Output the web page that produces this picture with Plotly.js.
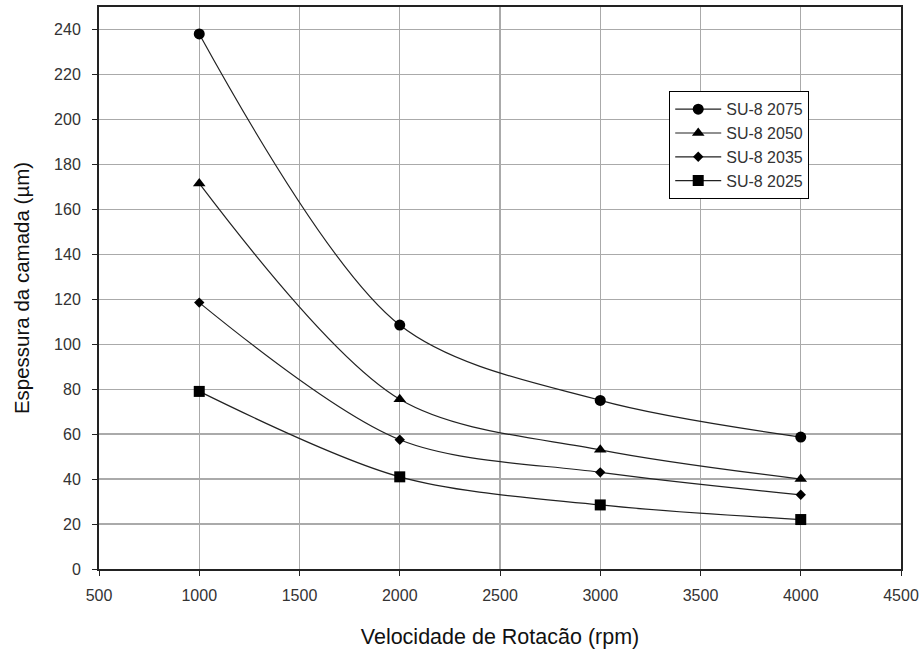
<!DOCTYPE html>
<html>
<head>
<meta charset="utf-8">
<script src="https://cdn.plot.ly/plotly-3.0.1.min.js"></script>
<style>html,body{margin:0;padding:0;background:#fff;}#chart{width:922px;height:651px;}</style>
</head>
<body>
<div id="chart"></div>
<script>
const rpm = [1000, 2000, 3000, 4000];
const su8_2075 = [238, 108.5, 75, 58.7];
const su8_2050 = [171.5, 75.5, 53, 40];
const su8_2035 = [118.5, 57.5, 43, 33];
const su8_2025 = [79, 41, 28.5, 22];
const seriesNames = ["SU-8 2075", "SU-8 2050", "SU-8 2035", "SU-8 2025"];
const xTicks = [500, 1000, 1500, 2000, 2500, 3000, 3500, 4000, 4500];
const yTicks = [0, 20, 40, 60, 80, 100, 120, 140, 160, 180, 200, 220, 240];

const series = [su8_2075, su8_2050, su8_2035, su8_2025];
const symbols = ["circle", "triangle-up", "diamond", "square"];
const sizes = [11, 11, 8, 11];

const traces = series.map((ys, i) => ({
  x: rpm, y: ys, name: seriesNames[i], type: "scatter", mode: "lines+markers",
  line: {color: "#222", width: 1.2, shape: "spline", smoothing: 0.9},
  marker: {symbol: symbols[i], size: sizes[i], color: "#000"}
}));

const layout = {
  width: 922, height: 651,
  margin: {l: 99, r: 21, t: 7, b: 82},
  paper_bgcolor: "#fff", plot_bgcolor: "#fff",
  font: {family: "Arial, 'Liberation Sans', sans-serif", color: "#333", size: 16},
  showlegend: true,
  legend: {x: 0.711, y: 0.85, xanchor: "left", yanchor: "top", bgcolor: "#fff",
           bordercolor: "#000", borderwidth: 1, font: {size: 16, color: "#333"},
           tracegroupgap: 0, itemwidth: 46},
  xaxis: {
    range: [500, 4500], tickvals: xTicks, ticktext: xTicks.map(String),
    showgrid: true, gridcolor: "#aaa", gridwidth: 1.3, zeroline: false,
    showline: true, linecolor: "#222", linewidth: 2, mirror: true,
    ticks: "outside", ticklen: 5, tickcolor: "#222", ticklabelstandoff: 6,
    tickfont: {size: 16, color: "#333"},
    title: {text: "Velocidade de Rotacão (rpm)", font: {size: 21.5, color: "#111"}, standoff: 26}
  },
  yaxis: {
    range: [0, 250], tickvals: yTicks, ticktext: yTicks.map(String),
    showgrid: true, gridcolor: "#aaa", gridwidth: 1.3, zeroline: false,
    showline: true, linecolor: "#222", linewidth: 2, mirror: true,
    ticks: "outside", ticklen: 5, tickcolor: "#222", ticklabelstandoff: 8,
    tickfont: {size: 16, color: "#333"},
    title: {text: "Espessura da camada (µm)", font: {size: 20.5, color: "#111"}, standoff: 19}
  }
};

Plotly.newPlot("chart", traces, layout, {displayModeBar: false, staticPlot: true});
</script>
</body>
</html>
